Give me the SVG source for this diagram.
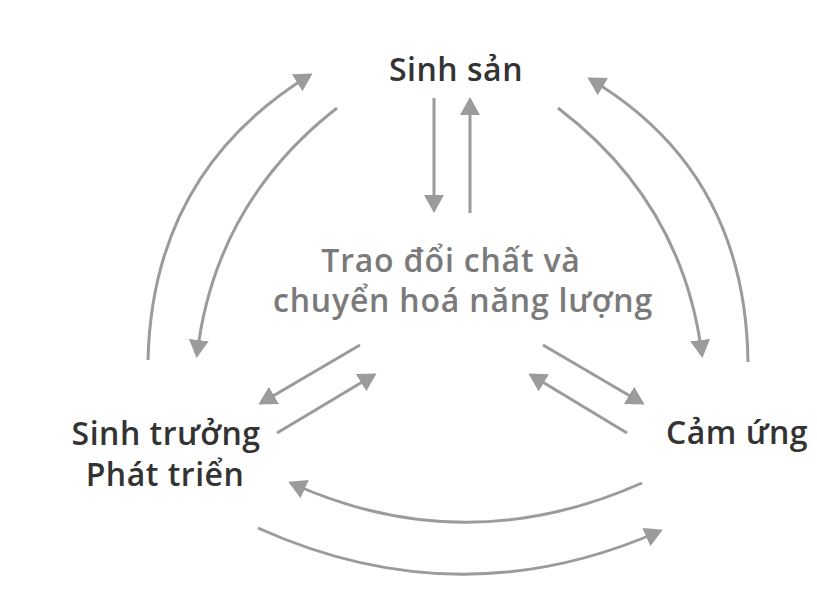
<svg xmlns="http://www.w3.org/2000/svg" width="817" height="592" viewBox="0 0 817 592">
<defs>
<marker id="ah" markerUnits="userSpaceOnUse" markerWidth="20" markerHeight="22" refX="15" refY="10" orient="auto" viewBox="0 0 20 22">
<path d="M0,0 L18,10 L0,20 z" fill="#9b9b9b"/>
</marker>
<style>
.n{font-family:"Open Sans","Liberation Sans",sans-serif;font-weight:600;font-size:32px;letter-spacing:0.5px;fill:#333;}
.c{font-family:"Open Sans","Liberation Sans",sans-serif;font-weight:600;font-size:32px;letter-spacing:0.8px;fill:#7a7a7a;}
.a{fill:none;stroke:#9b9b9b;stroke-width:3;marker-end:url(#ah);}
</style>
</defs>
<rect width="817" height="592" fill="#fff"/>
<g id="connectors">
<path class="a" d="M434,98 L434,210"/>
<path class="a" d="M470,213 L470,100"/>
<path class="a" d="M148,360 Q152.5,171.5 310,75"/>
<path class="a" d="M337,108 Q215,203 197,355"/>
<path class="a" d="M558,108 Q683,203 702,355"/>
<path class="a" d="M748,362 Q745.5,171.5 590,79"/>
<path class="a" d="M360,345 L261,403"/>
<path class="a" d="M277,433 L374,375"/>
<path class="a" d="M543,345 L642,403"/>
<path class="a" d="M627,433 L531,375"/>
<path class="a" d="M642,483 Q465,561.5 291,483"/>
<path class="a" d="M258,528 Q460,619 660,531"/>
</g>
<g id="sinh-san"><text class="n" x="456" y="81" text-anchor="middle">Sinh sản</text></g>
<g id="trao-doi"><text class="c" x="451" y="272" text-anchor="middle">Trao đổi chất và</text><text class="c" x="463" y="312" text-anchor="middle">chuyển hoá năng lượng</text></g>
<g id="sinh-truong"><text class="n" x="166" y="445" text-anchor="middle">Sinh trưởng</text><text class="n" x="165" y="486" text-anchor="middle">Phát triển</text></g>
<g id="cam-ung"><text class="n" x="737" y="444" text-anchor="middle">Cảm ứng</text></g>
</svg>
